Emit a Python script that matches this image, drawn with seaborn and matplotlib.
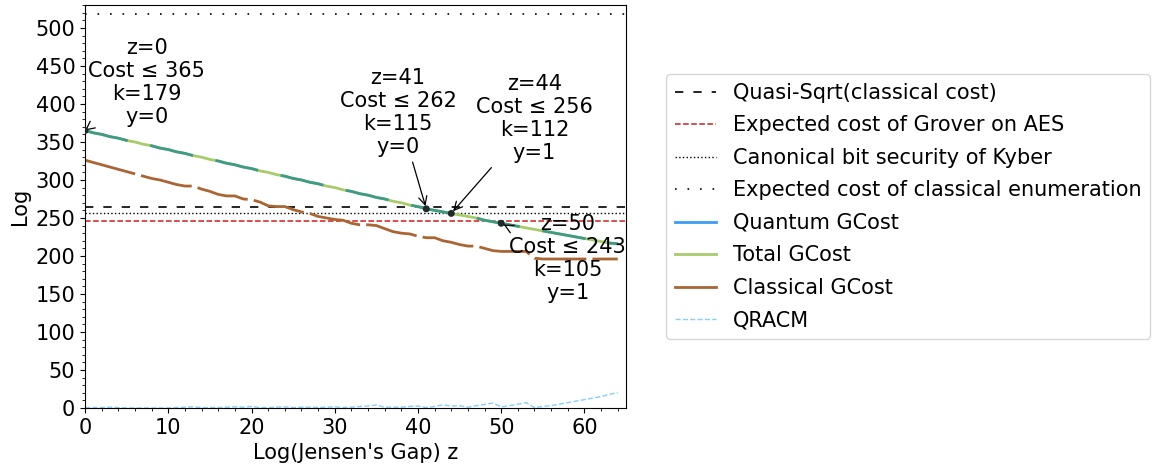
import matplotlib
matplotlib.use("Agg")
import matplotlib.pyplot as plt
from matplotlib.lines import Line2D
import seaborn as sns
import pandas as pd

# Jensen's gap exponent z
z_values = list(range(0, 65))

# Cost curves (log2 scale)
total_gcost = [365, 362, 360, 357, 355, 352, 350, 347, 345, 342,
               340, 337, 335, 332, 330, 327, 325, 322, 320, 317,
               315, 312, 310, 307, 305, 302, 300, 297, 295, 292,
               290, 287, 285, 282, 280, 277, 275, 272, 270, 267,
               265, 262, 260, 258, 256, 254, 252, 250, 247, 245,
               243, 241, 239, 237, 235, 233, 231, 229, 227, 225,
               223, 221, 219, 217, 216]
quantum_gcost = list(total_gcost)
classical_gcost = [326, 323, 320, 317, 314, 311, 308, 305, 302, 300,
                   297, 294, 292, 292, 288, 285, 281, 279, 279, 275,
                   274, 271, 266, 265, 265, 261, 258, 256, 252, 250,
                   248, 247, 243, 241, 241, 240, 236, 232, 230, 229,
                   226, 224, 224, 220, 218, 215, 213, 213, 210, 207,
                   206, 206, 206, 206, 197, 196, 196, 196, 196, 196,
                   196, 196, 196, 196, 196]
qracm = [0.5, 0.5, 0.5, 1, 0.5, 0, 0, 0, 0, 0,
         0, 0.5, 1, 1.5, 0.5, 0.5, 0.5, 1, 1.5, 1,
         2, 0.5, 0.5, 1, 1.5, 0.5, 1, 1, 0.5, 1,
         1.5, 0.5, 1, 2, 2.5, 4, 1, 1, 1, 2,
         2.5, 0.5, 2, 4, 2.5, 3, 1, 3, 4.5, 6.5,
         1.5, 3, 5, 7, 0.5, 2, 3, 5, 7, 9,
         11, 13, 15, 18, 20]

# Reference security levels
quasi_sqrt_cost = 264
grover_aes_cost = 246
kyber_bit_security = 256
classical_enum_cost = 518

# Highlighted parameter choices
mark_z = [0, 41, 44, 50]
mark_cost = [365, 262, 256, 243]
mark_k = [179, 115, 112, 105]
mark_y = [0, 0, 1, 1]
mark_text_pos = [(7.4, 428), (37.6, 389), (54.0, 381), (58.0, 197)]

legend_labels = ["Quasi-Sqrt(classical cost)", "Expected cost of Grover on AES",
                 "Canonical bit security of Kyber", "Expected cost of classical enumeration",
                 "Quantum GCost", "Total GCost", "Classical GCost", "QRACM"]

C_BLUE = "#3d9df3"
C_GREEN = "#a8cc6c"
C_TEAL = "#3f9a88"
C_BROWN = "#aa6535"
C_QRACM = "#87cefa"
C_RED = "#cc1f1f"
FS = 15

plt.rcParams["font.family"] = ["DejaVu Sans"]
plt.rcParams["font.size"] = FS

df = pd.DataFrame({"z": z_values, "total": total_gcost, "quantum": quantum_gcost,
                   "classical": classical_gcost, "qracm": qracm})

fig = plt.figure(figsize=(11.57, 4.70), dpi=100)
ax = fig.add_axes([0.0735, 0.132, 0.4676, 0.857])

ax.axhline(quasi_sqrt_cost, color="black", lw=1.2, ls=(0, (5, 6)))
ax.axhline(grover_aes_cost, color=C_RED, lw=1.1, ls="--")
ax.axhline(kyber_bit_security, color="black", lw=1.0, ls=":")
ax.axhline(classical_enum_cost, color="black", lw=1.2, ls=(0, (1, 6.5)))

sns.lineplot(data=df, x="z", y="total", ax=ax, color=C_GREEN, lw=2, legend=False)
sns.lineplot(data=df, x="z", y="quantum", ax=ax, color=C_TEAL, lw=2,
             ls=(0, (15.8, 8.3)), legend=False)
sns.lineplot(data=df, x="z", y="classical", ax=ax, color=C_BROWN, lw=2,
             ls=(0, (18.7, 2.2)), legend=False)
sns.lineplot(data=df, x="z", y="qracm", ax=ax, color=C_QRACM, lw=1,
             ls="--", legend=False)

sns.scatterplot(x=mark_z, y=mark_cost, ax=ax, color="#1e2a2a", s=25,
                edgecolor="none", zorder=5, legend=False)

for z, c, k, yv, pos in zip(mark_z, mark_cost, mark_k, mark_y, mark_text_pos):
    ax.annotate(f"z={z}\nCost \u2264 {c}\nk={k}\ny={yv}",
                xy=(z, c), xytext=pos, textcoords="data",
                ha="center", va="center", fontsize=FS, linespacing=1.18,
                arrowprops=dict(arrowstyle="->", color="black", lw=0.9))

ax.set_xlim(0, 65)
ax.set_ylim(0, 530)
ax.set_xticks(range(0, 61, 10))
ax.set_yticks(range(0, 501, 50))
ax.minorticks_on()
ax.tick_params(labelsize=FS)
ax.set_xlabel("Log(Jensen's Gap) z", fontsize=FS)
ax.set_ylabel("Log", fontsize=FS)

handles = [
    Line2D([], [], color="black", lw=1.2, ls=(0, (5, 6))),
    Line2D([], [], color=C_RED, lw=1.1, ls="--"),
    Line2D([], [], color="black", lw=1.0, ls=":"),
    Line2D([], [], color="black", lw=1.2, ls=(0, (1, 6.5))),
    Line2D([], [], color=C_BLUE, lw=2),
    Line2D([], [], color=C_GREEN, lw=2),
    Line2D([], [], color=C_BROWN, lw=2),
    Line2D([], [], color=C_QRACM, lw=1, ls="--"),
]
ax.legend(handles, legend_labels, loc="center left", bbox_to_anchor=(1.055, 0.5),
          fontsize=FS, frameon=True, labelspacing=0.6)

fig.savefig("out.png", dpi=100)
